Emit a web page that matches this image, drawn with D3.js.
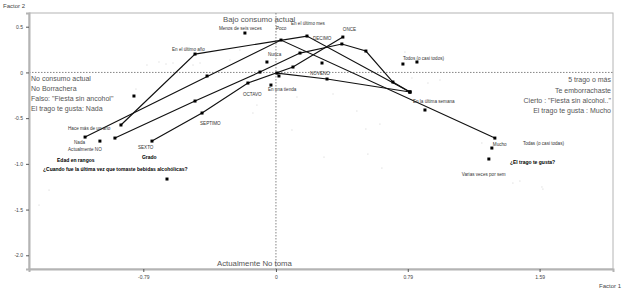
<!DOCTYPE html>
<html>
<head>
<meta charset="utf-8">
<title>Factor 1 x Factor 2</title>
<script src="https://d3js.org/d3.v7.min.js"></script>
<style>
  body { margin: 0; background: #fff; }
  svg { font-family: "Liberation Sans", Arial, sans-serif; }
</style>
</head>
<body>
<div id="chart"></div>
<script>
// connected categories (Factor 1, Factor 2)
const gusta = [[-1.144, -0.707], [0.030, 0.354], [1.312, -0.718]];
const cuando = [[-0.929, -0.575], [-0.485, 0.201], [0.186, 0.398], [0.803, -0.214]];
const grado = [[-0.743, -0.751], [-0.443, -0.444], [-0.168, -0.116], [0.102, 0.059], [0.401, 0.387]];
const edad = [[-0.965, -0.718], [-0.485, -0.313], [-0.096, 0.004], [0.144, 0.212], [0.395, 0.311],
              [0.539, 0.234], [0.701, -0.105], [0.803, -0.214]];
const otra = [[0.006, -0.007], [0.306, -0.072], [0.803, -0.214]];
const trajectories = [gusta, cuando, grado, edad, otra];

// single categories
const singles = [[-0.186, 0.431], [-0.054, 0.114], [0.276, 0.103], [0.018, -0.039], [-0.030, -0.138],
  [0.761, 0.092], [0.845, 0.114], [0.893, -0.411], [1.294, -0.827], [1.276, -0.947],
  [-1.055, -0.751], [-0.851, -0.258], [-0.653, -1.166], [-0.413, -0.039]];

// individuals (faint dots)
const dots = [[-0.773, 0.081], [-0.701, 0.114], [-0.659, 0.092], [-0.617, 0.103], [-0.563, 0.059],
  [-0.497, 0.081], [-0.455, 0.103], [-0.839, -0.182], [-1.360, -1.287], [-1.420, -1.451],
  [1.420, -1.210], [1.594, -1.253], [-0.114, -0.357], [-0.138, -0.444], [0.018, -0.543],
  [0.096, -0.630], [0.288, -0.926], [0.485, -0.422], [0.539, -0.619], [0.623, -0.565],
  [0.551, -0.893], [0.635, -1.046], [0.342, -0.236], [0.126, -0.269], [1.234, -0.772],
  [1.462, -1.188], [1.600, -1.276], [0.815, -0.061], [0.911, -0.116], [0.983, -0.083],
  [0.773, 0.223], [-0.276, 0.136], [-0.216, 0.245], [0.324, 0.300]];

// category labels: text, Factor 1, Factor 2
const catLabels = [
  ["Menos de seis veces", -0.342, 0.464], ["Poco", 0.0, 0.464], ["En el último mes", 0.090, 0.519],
  ["DECIMO", 0.222, 0.354], ["ONCE", 0.401, 0.453], ["Nunca", -0.048, 0.179],
  ["NOVENO", 0.204, -0.028], ["OCTAVO", -0.198, -0.258], ["En una tienda", -0.048, -0.204],
  ["Todos (o casi todos)", 0.761, 0.136], ["En la última semana", 0.821, -0.335],
  ["Mucho", 1.300, -0.805], ["Todas (o casi todas)", 1.480, -0.794],
  ["Varias veces por sem", 1.114, -1.133], ["Hace más de un año", -1.246, -0.630],
  ["Nada", -1.210, -0.783], ["Actualmente NO", -1.246, -0.860], ["SEXTO", -0.827, -0.838],
  ["SEPTIMO", -0.455, -0.575], ["En el último año", -0.623, 0.234]
];
const varLabels = [
  ["Edad en rangos", -1.312, -0.980],
  ["¿Cuando fue la última vez que tomaste bebidas alcohólicas?", -1.396, -1.078],
  ["Grado", -0.803, -0.947], ["¿El trago te gusta?", 1.402, -1.002]
];
const leftPole = ["No consumo actual", "No Borrachera", "Falso: \"Fiesta sin ancohol\"", "El trago te gusta: Nada"];
const rightPole = ["5  trago o más", "Te emborrachaste", "Cierto : \"Fiesta sin alcohol..\"", "El trago te gusta : Mucho"];
const topPole = "Bajo consumo actual";
const bottomPole = "Actualmente No toma";

const xTicks = [-0.795, 0, 0.79, 1.58];
const xTickLabels = ["-0.79", "0", "0.79", "1.59"];
const yTicks = [0.5, 0, -0.5, -1.0, -1.5, -2.0];
const yTickLabels = ["0.5", "0", "-0.5", "-1.0", "-1.5", "-2.0"];

const W = 624, H = 290;
const margin = { top: 13, right: 11, bottom: 21, left: 29 };

const svg = d3.select("#chart").append("svg")
  .attr("width", W).attr("height", H);

const x = d3.scaleLinear().domain([-1.48, 2.02]).range([margin.left, W - margin.right]);
const y = d3.scaleLinear().domain([-2.15, 0.65]).range([H - margin.bottom, margin.top]);

// frame
svg.append("rect")
  .attr("x", margin.left).attr("y", margin.top)
  .attr("width", W - margin.left - margin.right).attr("height", H - margin.top - margin.bottom)
  .attr("fill", "none").attr("stroke", "#b4b4b4").attr("stroke-width", 1);

// reference lines through origin
svg.append("line")
  .attr("x1", margin.left).attr("x2", W - margin.right)
  .attr("y1", y(0)).attr("y2", y(0))
  .attr("stroke", "#666").attr("stroke-width", 0.8).attr("stroke-dasharray", "1.5,1.5");
svg.append("line")
  .attr("x1", x(0)).attr("x2", x(0))
  .attr("y1", margin.top).attr("y2", H - margin.bottom)
  .attr("stroke", "#666").attr("stroke-width", 0.8).attr("stroke-dasharray", "1.5,1.5");

// axes
const xAxis = svg.append("g")
  .attr("transform", "translate(0," + (H - margin.bottom) + ")")
  .call(d3.axisBottom(x).tickValues(xTicks).tickSize(3).tickPadding(3)
    .tickFormat((d, i) => xTickLabels[i]));
const yAxis = svg.append("g")
  .attr("transform", "translate(" + margin.left + ",0)")
  .call(d3.axisLeft(y).tickValues(yTicks).tickSize(3).tickPadding(3)
    .tickFormat((d, i) => yTickLabels[i]));
[xAxis, yAxis].forEach(g => {
  g.select(".domain").attr("stroke", "#b4b4b4").attr("stroke-width", 2);
  g.selectAll(".tick line").attr("stroke", "#555");
  g.selectAll(".tick text").attr("fill", "#444").style("font-size", "5px")
    .style("font-family", "Liberation Sans, Arial, sans-serif");
});

svg.append("text").attr("x", 3).attr("y", 8).attr("fill", "#444")
  .style("font-size", "6px").text("Factor 2");
svg.append("text").attr("x", 621).attr("y", 288).attr("text-anchor", "end").attr("fill", "#444")
  .style("font-size", "6px").text("Factor 1");

// individuals
svg.append("g").selectAll("rect").data(dots).join("rect")
  .attr("x", d => x(d[0]) - 0.5).attr("y", d => y(d[1]) - 0.5)
  .attr("width", 1).attr("height", 1).attr("fill", "#d0d0d0");

// trajectories
const line = d3.line().x(d => x(d[0])).y(d => y(d[1]));
svg.append("g").selectAll("path").data(trajectories).join("path")
  .attr("d", line).attr("fill", "none").attr("stroke", "#111").attr("stroke-width", 1.2);

const allPts = trajectories.flat().concat(singles);
svg.append("g").selectAll("rect").data(allPts).join("rect")
  .attr("x", d => x(d[0]) - 1.5).attr("y", d => y(d[1]) - 1.5)
  .attr("width", 3).attr("height", 3).attr("fill", "#000");

// labels
svg.append("g").selectAll("text").data(catLabels).join("text")
  .attr("x", d => x(d[1])).attr("y", d => y(d[2]))
  .attr("fill", "#333").style("font-size", "4.6px").text(d => d[0]);
svg.append("g").selectAll("text").data(varLabels).join("text")
  .attr("x", d => x(d[1])).attr("y", d => y(d[2]))
  .attr("fill", "#000").style("font-size", "5px").style("font-weight", "bold").text(d => d[0]);

svg.append("g").selectAll("text").data(leftPole).join("text")
  .attr("x", margin.left + 2).attr("y", (d, i) => y(0) + 9 + i * 9.8)
  .attr("fill", "#555").style("font-size", "7px").text(d => d);
svg.append("g").selectAll("text").data(rightPole).join("text")
  .attr("x", W - margin.right - 2).attr("y", (d, i) => y(0) + 10 + i * 10.3)
  .attr("text-anchor", "end")
  .attr("fill", "#555").style("font-size", "7px").text(d => d);
svg.append("text").attr("x", x(0) - 53).attr("y", margin.top + 9)
  .attr("fill", "#555").style("font-size", "7.8px").text(topPole);
svg.append("text").attr("x", x(0) - 59).attr("y", H - margin.bottom - 3)
  .attr("fill", "#555").style("font-size", "7.8px").text(bottomPole);
</script>
</body>
</html>
